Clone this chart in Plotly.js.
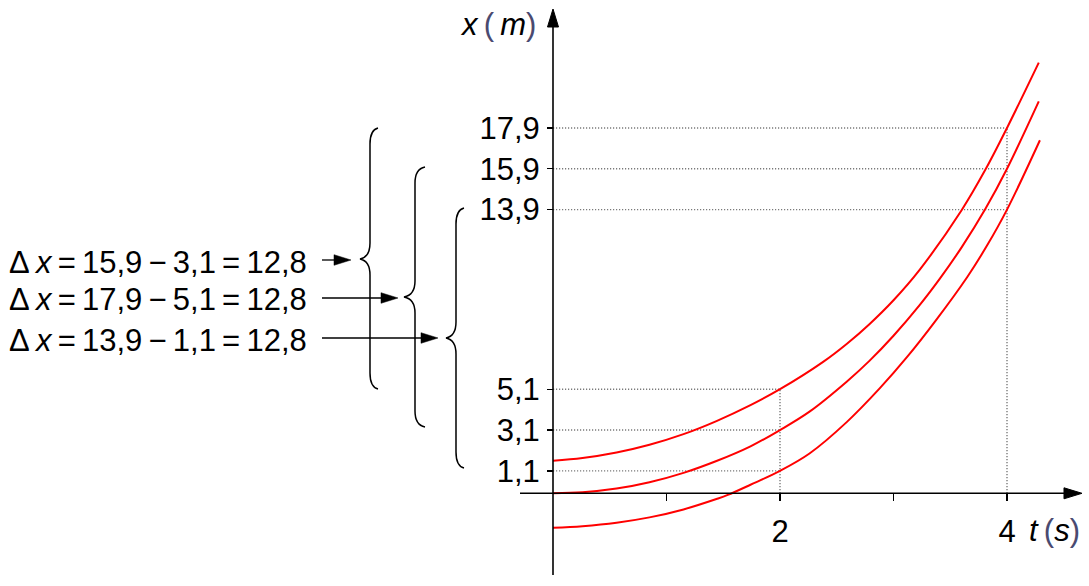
<!DOCTYPE html>
<html><head><meta charset="utf-8">
<script src="https://cdn.plot.ly/plotly-3.0.1.min.js"></script>
<style>html,body{margin:0;padding:0;background:#fff}#chart{width:1089px;height:586px}</style>
</head><body><div id="chart"></div>
<script>
// ---- data ----
const tTop = [0, 0.26, 0.56, 0.85, 1.15, 1.44, 1.74, 2, 2.38, 2.59, 2.79, 3.0, 3.23, 3.60, 3.81, 4, 4.28];
const xTop = [1.6, 1.73, 2.0, 2.38, 2.9, 3.54, 4.32, 5.1, 6.44, 7.33, 8.3, 9.46, 10.95, 13.87, 15.86, 17.9, 21.1];

const tMid = [0, 0.26, 0.56, 0.85, 1.15, 1.44, 1.74, 2, 2.26, 2.59, 2.79, 3.0, 3.23, 3.41, 3.60, 3.81, 4, 4.28];
const xMid = [0, 0.05, 0.23, 0.54, 1.0, 1.58, 2.3, 3.1, 4.0, 5.48, 6.5, 7.72, 9.22, 10.53, 12.05, 13.94, 15.9, 19.2];

const tBot = [0, 0.26, 0.56, 0.85, 1.15, 1.44, 1.54, 1.74, 2, 2.26, 2.59, 2.88, 3.12, 3.37, 3.65, 3.82, 4, 4.29];
const xBot = [-1.69, -1.61, -1.44, -1.18, -0.79, -0.28, -0.08, 0.42, 1.1, 1.95, 3.5, 5.15, 6.68, 8.45, 10.6, 12.1, 13.9, 17.3];

const guideT2 = 2;
const guideLevels2 = [1.1, 3.1, 5.1];
const guideT4 = 4;
const guideLevels4 = [13.9, 15.9, 17.9];

const yTickVals = [1.1, 3.1, 5.1, 13.9, 15.9, 17.9];
const yTickText = ['1,1', '3,1', '5,1', '13,9', '15,9', '17,9'];
const xTickVals = [1, 2, 3, 4];
const xTickText = ['', '2', '', '4'];

const deltaTexts = [
  'Δ\u2009<i>x</i>\u2009=\u200915,9\u2009−\u20093,1\u2009=\u200912,8',
  'Δ\u2009<i>x</i>\u2009=\u200917,9\u2009−\u20095,1\u2009=\u200912,8',
  'Δ\u2009<i>x</i>\u2009=\u200913,9\u2009−\u20091,1\u2009=\u200912,8'
];

// ---- layout geometry (pixels) ----
const W = 1089, H = 586;
const OX = 553, OY = 493.3, PXT = 113.5, PXX = 20.41;
const FONT = 'Liberation Sans, Arial, sans-serif';
const px = x => x / W;
const py = y => 1 - y / H;
const P = (x, y) => px(x).toFixed(5) + ',' + py(y).toFixed(5);

const shapes = [];
// dotted guides
const dotted = {color: '#7a7a7a', width: 1.4, dash: '1.2px,1.8px'};
guideLevels2.forEach(v => shapes.push({type: 'line', xref: 'x', yref: 'y', x0: 0, x1: guideT2, y0: v, y1: v, line: dotted, layer: 'below'}));
shapes.push({type: 'line', xref: 'x', yref: 'y', x0: guideT2, x1: guideT2, y0: 0, y1: Math.max(...guideLevels2), line: dotted, layer: 'below'});
guideLevels4.forEach(v => shapes.push({type: 'line', xref: 'x', yref: 'y', x0: 0, x1: guideT4, y0: v, y1: v, line: dotted, layer: 'below'}));
shapes.push({type: 'line', xref: 'x', yref: 'y', x0: guideT4, x1: guideT4, y0: 0, y1: Math.max(...guideLevels4), line: dotted, layer: 'below'});

const blk = {color: '#000', width: 1.6};
// axes with arrowheads
shapes.push({type: 'line', xref: 'paper', yref: 'paper', x0: px(520), x1: px(1066), y0: py(OY), y1: py(OY), line: blk});
shapes.push({type: 'path', xref: 'paper', yref: 'paper', path: 'M' + P(1082, OY) + 'L' + P(1064, OY - 5.5) + 'L' + P(1064, OY + 5.5) + 'Z', fillcolor: '#000', line: {color: '#000', width: 1}});
shapes.push({type: 'line', xref: 'paper', yref: 'paper', x0: px(OX), x1: px(OX), y0: py(575), y1: py(25), line: blk});
shapes.push({type: 'path', xref: 'paper', yref: 'paper', path: 'M' + P(OX, 9) + 'L' + P(OX - 5.5, 27) + 'L' + P(OX + 5.5, 27) + 'Z', fillcolor: '#000', line: {color: '#000', width: 1}});

// braces
function brace(xv, xEnd, xCusp, yTop, yMid, yBot) {
  const r = 16;
  return 'M' + P(xEnd, yTop) +
    'Q' + P(xv, yTop + 2) + ' ' + P(xv, yTop + r) +
    'L' + P(xv, yMid - r) +
    'Q' + P(xv, yMid - 2) + ' ' + P(xCusp, yMid) +
    'Q' + P(xv, yMid + 2) + ' ' + P(xv, yMid + r) +
    'L' + P(xv, yBot - r) +
    'Q' + P(xv, yBot - 2) + ' ' + P(xEnd, yBot);
}
[[370, 378, 360, 128, 259, 389], [415, 425, 404, 167, 297, 427], [456, 464, 446, 208, 338, 468]].forEach(b => {
  shapes.push({type: 'path', xref: 'paper', yref: 'paper', path: brace(...b), line: {color: '#000', width: 1.5}});
});
// arrows from text to braces
[[260, 351], [298, 398], [338, 438]].forEach(([y, tip]) => {
  shapes.push({type: 'line', xref: 'paper', yref: 'paper', x0: px(322), x1: px(tip - 14), y0: py(y), y1: py(y), line: {color: '#000', width: 1.3}});
  shapes.push({type: 'path', xref: 'paper', yref: 'paper', path: 'M' + P(tip, y) + 'L' + P(tip - 17, y - 5.3) + 'L' + P(tip - 17, y + 5.3) + 'Z', fillcolor: '#000', line: {color: '#000', width: 0.5}});
});

const annotations = [];
[262, 299, 340].forEach((y, i) => annotations.push({
  xref: 'paper', yref: 'paper', x: px(7), y: py(y), xanchor: 'left', yanchor: 'middle',
  text: deltaTexts[i], showarrow: false, font: {family: FONT, size: 31, color: '#000'}
}));
const paren = s => '<span style="color:#4a4a70">' + s + '</span>';
annotations.push({xref: 'paper', yref: 'paper', x: px(498), y: py(25), xanchor: 'center', yanchor: 'middle', showarrow: false,
  text: '<i>x</i>\u2009' + paren('(') + '\u2009<i>m</i>' + paren(')'), font: {family: FONT, size: 31, color: '#000'}});
annotations.push({xref: 'paper', yref: 'paper', x: px(1054), y: py(530), xanchor: 'center', yanchor: 'middle', showarrow: false,
  text: '<i>t</i>\u2009' + paren('(') + '<i>s</i>' + paren(')'), font: {family: FONT, size: 31, color: '#000'}});

const curve = (t, x) => ({x: t, y: x, type: 'scatter', mode: 'lines', hoverinfo: 'skip',
  line: {color: '#ff0000', width: 2, shape: 'spline', smoothing: 1}});

const layout = {
  width: W, height: H,
  margin: {l: 0, r: 0, t: 0, b: 0, pad: 0},
  paper_bgcolor: '#fff', plot_bgcolor: '#fff',
  showlegend: false,
  xaxis: {range: [-OX / PXT, (W - OX) / PXT], domain: [0, 1], anchor: 'free', position: py(OY),
    showgrid: false, zeroline: false, showline: false,
    tickmode: 'array', tickvals: xTickVals, ticktext: xTickText,
    ticks: 'outside', ticklen: 7, tickwidth: 1.4, tickcolor: '#000',
    tickfont: {family: FONT, size: 31, color: '#000'}, ticklabelstandoff: 3},
  yaxis: {range: [-(H - OY) / PXX, OY / PXX], domain: [0, 1], anchor: 'free', position: px(OX),
    showgrid: false, zeroline: false, showline: false,
    tickmode: 'array', tickvals: yTickVals, ticktext: yTickText,
    ticks: 'outside', ticklen: 6, tickwidth: 1.4, tickcolor: '#000',
    tickfont: {family: FONT, size: 31, color: '#000'}, ticklabelstandoff: 1},
  shapes: shapes,
  annotations: annotations
};

Plotly.newPlot('chart', [curve(tTop, xTop), curve(tMid, xMid), curve(tBot, xBot)], layout, {staticPlot: true, displayModeBar: false});
</script></body></html>
